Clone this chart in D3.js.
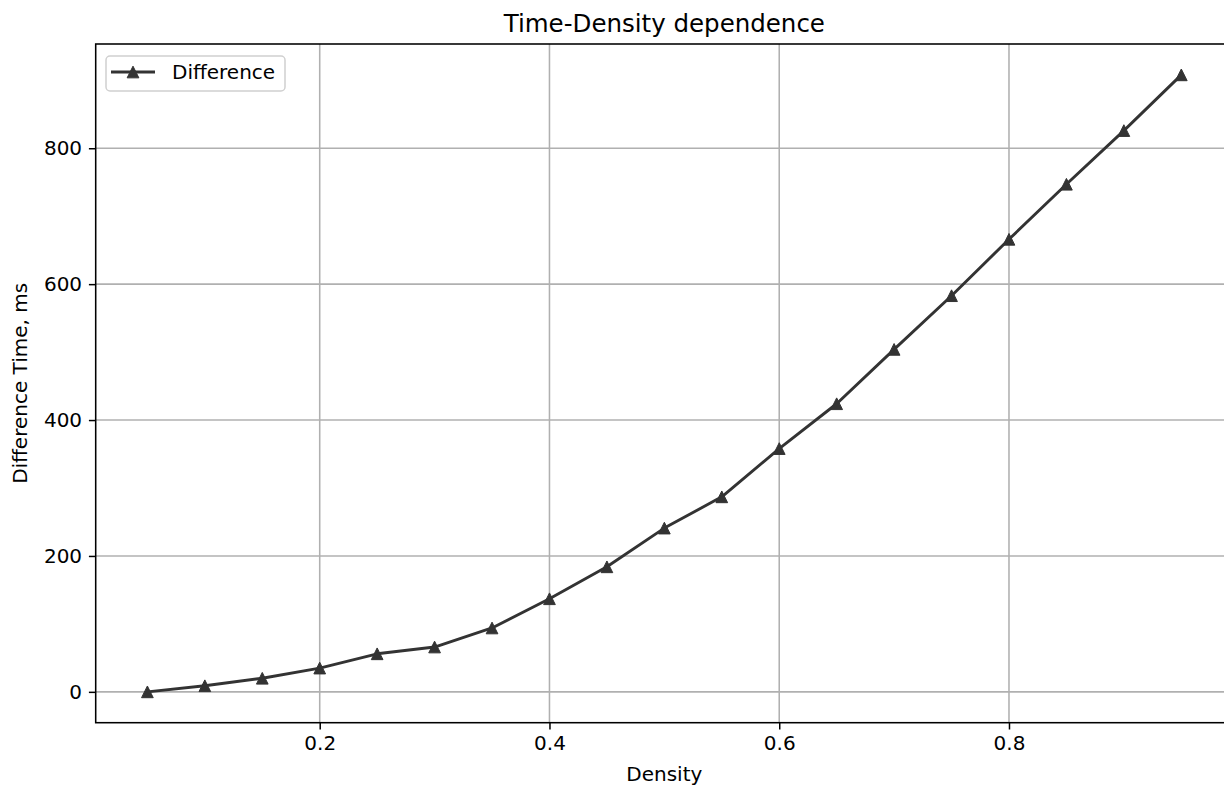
<!DOCTYPE html>
<html>
<head>
<meta charset="utf-8">
<script src="https://cdn.jsdelivr.net/npm/d3@7"></script>
<style>
  body { margin: 0; background: #fff; }
  svg { display: block; overflow: hidden; font-family: "DejaVu Sans", sans-serif; }
  .axis text { font-family: "DejaVu Sans", sans-serif; font-size: 20px; fill: #000; }
  .axis path, .axis line { stroke: #000; stroke-width: 1.5px; }
</style>
</head>
<body>
<svg id="chart"></svg>
<script>
// Chart data
var density = [0.05, 0.10, 0.15, 0.20, 0.25, 0.30, 0.35, 0.40, 0.45, 0.50,
               0.55, 0.60, 0.65, 0.70, 0.75, 0.80, 0.85, 0.90, 0.95];
var difference = [0, 9, 20, 35, 56, 66, 94, 137, 184, 241,
                  287, 358, 424, 504, 583, 666, 747, 826, 908];
var xTicks = [0.2, 0.4, 0.6, 0.8];
var yTicks = [0, 200, 400, 600, 800];
var seriesName = "Difference";

var data = density.map(function(d, i) { return {x: d, y: difference[i]}; });

// SVG size params
var width = 1224;
var height = 785;
var plot = {left: 95.7, right: 1233, top: 44, bottom: 722.7};
var lineColor = "#333333";

var svg = d3.select("#chart")
    .attr("width", width)
    .attr("height", height);

// Pad extent by 5% like matplotlib autoscale
function padded(ext) {
  var p = (ext[1] - ext[0]) * 0.05;
  return [ext[0] - p, ext[1] + p];
}

var x = d3.scaleLinear()
          .domain(padded(d3.extent(density)))
          .range([plot.left, plot.right]);

var y = d3.scaleLinear()
          .domain(padded(d3.extent(difference)))
          .range([plot.bottom, plot.top]);

// Grid lines
var grid = svg.append("g").attr("id", "grid");
grid.selectAll(".vgrid")
  .data(xTicks)
  .enter().append("line")
    .attr("x1", d => x(d)).attr("x2", d => x(d))
    .attr("y1", plot.top).attr("y2", plot.bottom)
    .attr("stroke", "#b0b0b0").attr("stroke-width", 1.55);
grid.selectAll(".hgrid")
  .data(yTicks)
  .enter().append("line")
    .attr("x1", plot.left).attr("x2", plot.right)
    .attr("y1", d => y(d)).attr("y2", d => y(d))
    .attr("stroke", "#b0b0b0").attr("stroke-width", 1.55);

// Axes
var xAxis = d3.axisBottom(x).tickValues(xTicks).tickFormat(d3.format(".1f"))
    .tickSizeInner(6.8).tickSizeOuter(0).tickPadding(6.8);
var yAxis = d3.axisLeft(y).tickValues(yTicks).tickFormat(d3.format("d"))
    .tickSizeInner(6.8).tickSizeOuter(0).tickPadding(6.8);

svg.append("g")
    .attr("class", "axis")
    .attr("transform", "translate(0," + plot.bottom + ")")
    .call(xAxis)
    .call(g => g.select(".domain").remove());

svg.append("g")
    .attr("class", "axis")
    .attr("transform", "translate(" + plot.left + ",0)")
    .call(yAxis)
    .call(g => g.select(".domain").remove());

// Frame (spines)
svg.append("rect")
    .attr("x", plot.left).attr("y", plot.top)
    .attr("width", plot.right - plot.left)
    .attr("height", plot.bottom - plot.top)
    .attr("fill", "none")
    .attr("stroke", "#000")
    .attr("stroke-width", 1.55);

// Line
var line = d3.line()
    .x(d => x(d.x))
    .y(d => y(d.y));

svg.append("path")
    .datum(data)
    .attr("d", line)
    .attr("fill", "none")
    .attr("stroke", lineColor)
    .attr("stroke-width", 2.9)
    .attr("stroke-linejoin", "round");

// Triangle markers
var tri = "M0,-5.85L5.85,5.85L-5.85,5.85Z";
svg.selectAll(".marker")
  .data(data)
  .enter().append("path")
    .attr("class", "marker")
    .attr("transform", d => "translate(" + x(d.x) + "," + y(d.y) + ")")
    .attr("d", tri)
    .attr("fill", lineColor)
    .attr("stroke", lineColor)
    .attr("stroke-width", 1);

// Title and labels
svg.append("text")
    .attr("x", (plot.left + 1233) / 2)
    .attr("y", 32)
    .attr("text-anchor", "middle")
    .style("font-size", "24.5px")
    .text("Time-Density dependence");

svg.append("text")
    .attr("x", (plot.left + 1233) / 2)
    .attr("y", 781)
    .attr("text-anchor", "middle")
    .style("font-size", "20px")
    .text("Density");

svg.append("text")
    .attr("transform", "translate(27," + (plot.top + plot.bottom) / 2 + ") rotate(-90)")
    .attr("text-anchor", "middle")
    .style("font-size", "20px")
    .text("Difference Time, ms");

// Legend
var legend = svg.append("g").attr("transform", "translate(106,56)");
legend.append("rect")
    .attr("width", 179).attr("height", 35)
    .attr("rx", 4).attr("ry", 4)
    .attr("fill", "#fff").attr("fill-opacity", 0.8)
    .attr("stroke", "#d0d0d0").attr("stroke-width", 1.5);
legend.append("line")
    .attr("x1", 5).attr("x2", 49)
    .attr("y1", 16).attr("y2", 16)
    .attr("stroke", lineColor).attr("stroke-width", 2.9);
legend.append("path")
    .attr("transform", "translate(27,16)")
    .attr("d", tri)
    .attr("fill", lineColor).attr("stroke", lineColor).attr("stroke-width", 1);
legend.append("text")
    .attr("x", 66).attr("y", 23)
    .style("font-size", "20px")
    .text(seriesName);
</script>
</body>
</html>
